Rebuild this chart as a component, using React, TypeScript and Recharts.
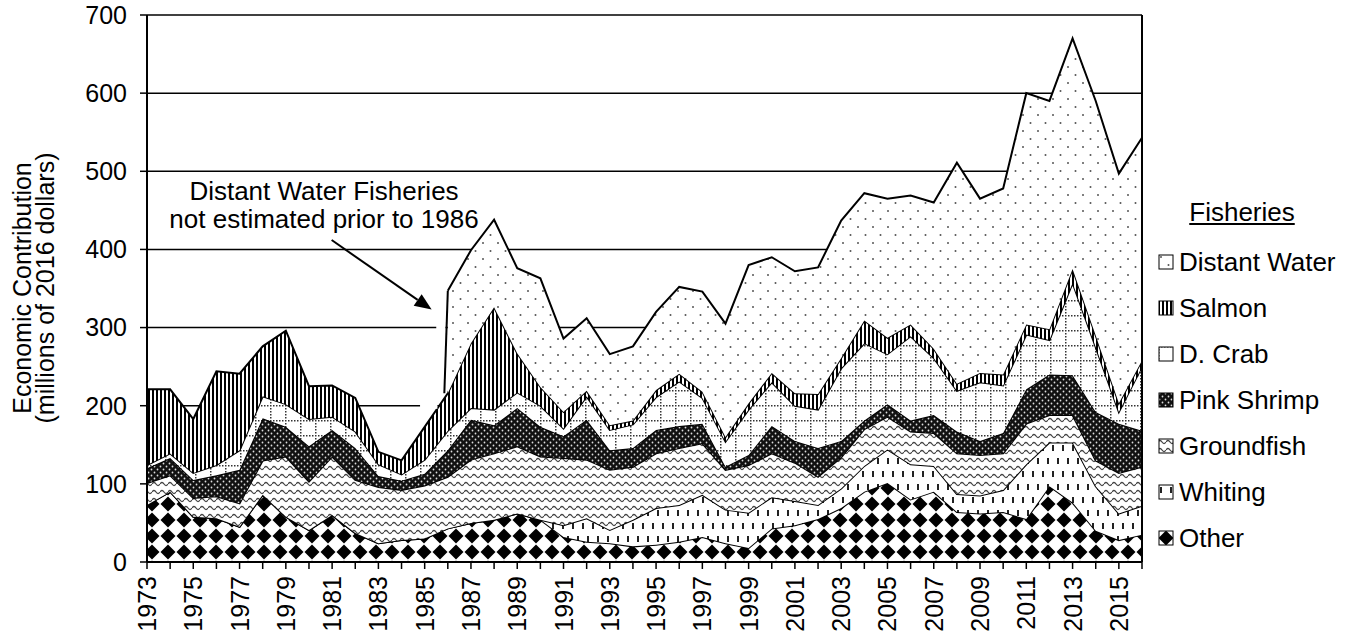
import React from "react";
import {
  AreaChart,
  Area,
  XAxis,
  YAxis,
  CartesianGrid,
  ReferenceLine,
  ReferenceArea,
} from "recharts";

const FONT = "'Liberation Sans', Arial, sans-serif";

const years = [
  1973, 1974, 1975, 1976, 1977, 1978, 1979, 1980, 1981, 1982, 1983, 1984, 1985,
  1986, 1987, 1988, 1989, 1990, 1991, 1992, 1993, 1994, 1995, 1996, 1997, 1998,
  1999, 2000, 2001, 2002, 2003, 2004, 2005, 2006, 2007, 2008, 2009, 2010, 2011,
  2012, 2013, 2014, 2015, 2016,
];

// millions of 2016 dollars, stacked bottom to top
const other = [
  73, 90, 58, 56, 45, 86, 58, 41, 60, 37, 24, 28, 30,
  43, 50, 54, 62, 54, 32, 26, 24, 20, 22, 26, 32, 24, 18,
  43, 47, 55, 69, 90, 101, 80, 90, 64, 62, 64, 55, 97, 76, 40, 28, 35,
];
const whiting = [
  0, 0, 0, 0, 0, 0, 0, 0, 0, 0, 0, 0, 0,
  0, 0, 0, 0, 0, 15, 30, 17, 34, 47, 47, 54, 43, 45,
  40, 31, 18, 25, 33, 43, 45, 33, 23, 23, 28, 70, 56, 77, 57, 34, 37,
];
const groundfish = [
  28, 21, 24, 28, 30, 44, 77, 62, 75, 68, 72, 64, 68,
  66, 81, 85, 86, 81, 86, 75, 77, 68, 70, 73, 66, 51, 61,
  56, 49, 36, 40, 47, 42, 42, 42, 52, 52, 47, 52, 35, 35, 33, 52, 50,
];
const pinkShrimp = [
  19, 22, 23, 27, 43, 54, 38, 45, 34, 41, 14, 12, 15,
  34, 51, 36, 49, 38, 28, 51, 25, 24, 30, 28, 25, 4, 13,
  35, 28, 37, 21, 11, 16, 14, 23, 28, 18, 26, 44, 52, 51, 62, 63, 46,
];
const dCrab = [
  4, 6, 9, 13, 25, 28, 29, 35, 17, 21, 15, 8, 18,
  25, 15, 20, 20, 27, 10, 30, 26, 30, 42, 57, 33, 32, 58,
  56, 45, 49, 93, 99, 64, 108, 73, 52, 75, 61, 70, 44, 118, 83, 15, 82,
];
const salmon = [
  97, 82, 69, 120, 98, 64, 94, 42, 40, 43, 16, 18, 42,
  48, 83, 131, 50, 24, 21, 7, 6, 5, 9, 10, 8, 6, 8,
  12, 16, 20, 13, 29, 21, 15, 12, 9, 12, 14, 13, 14, 18, 15, 11, 8,
];
const distantWater = [
  null, null, null, null, null, null, null, null, null, null, null, null, null,
  131, 119, 112, 109, 139, 94, 93, 91, 95, 100, 111, 128, 145, 177,
  148, 156, 162, 176, 163, 178, 165, 187, 283, 223, 238, 296, 292, 295, 300, 294, 285,
];

const yTicks = [0, 100, 200, 300, 400, 500, 600, 700];

const data = years.map((year, i) => ({
  year,
  other: other[i],
  whiting: whiting[i],
  groundfish: groundfish[i],
  pinkShrimp: pinkShrimp[i],
  dCrab: dCrab[i],
  salmon: salmon[i],
  distantWater: distantWater[i],
}));

const series = [
  { key: "other", name: "Other", fill: "pOther" },
  { key: "whiting", name: "Whiting", fill: "pWhiting" },
  { key: "groundfish", name: "Groundfish", fill: "pGround" },
  { key: "pinkShrimp", name: "Pink Shrimp", fill: "pShrimp" },
  { key: "dCrab", name: "D. Crab", fill: "pCrab" },
  { key: "salmon", name: "Salmon", fill: "pSalmon" },
  { key: "distantWater", name: "Distant Water", fill: "pDW" },
];

const Patterns = () => (
  <defs>
    <pattern id="pOther" width="16" height="16" patternUnits="userSpaceOnUse">
      <rect width="16" height="16" fill="#fff" />
      <polygon points="8,0.5 15.5,8 8,15.5 0.5,8" fill="#000" />
    </pattern>
    <pattern id="pWhiting" width="10" height="26" patternUnits="userSpaceOnUse">
      <rect width="10" height="26" fill="#fff" />
      <rect x="2" y="3" width="2" height="6" fill="#222" />
      <rect x="7" y="16" width="2" height="6" fill="#222" />
    </pattern>
    <pattern id="pGround" width="8" height="8" patternUnits="userSpaceOnUse">
      <rect width="8" height="8" fill="#fff" />
      <path d="M0 4 Q 2 1 4 4 T 8 4" fill="none" stroke="#444" strokeWidth="1.3" />
    </pattern>
    <pattern id="pShrimp" width="6" height="6" patternUnits="userSpaceOnUse">
      <rect width="6" height="6" fill="#111" />
      <circle cx="1.5" cy="1.5" r="0.9" fill="#ddd" />
      <circle cx="4.5" cy="4.5" r="0.9" fill="#ddd" />
    </pattern>
    <pattern id="pCrab" width="15" height="15" patternUnits="userSpaceOnUse">
      <rect width="15" height="15" fill="#fff" />
      <rect x="0" y="0" width="1.5" height="1.5" fill="#333" />
      <rect x="3" y="0" width="1.5" height="1.5" fill="#333" />
      <rect x="6" y="0" width="1.5" height="1.5" fill="#333" />
      <rect x="9" y="0" width="1.5" height="1.5" fill="#333" />
      <rect x="12" y="0" width="1.5" height="1.5" fill="#333" />
      <rect x="0" y="3" width="1.5" height="1.5" fill="#333" />
      <rect x="0" y="6" width="1.5" height="1.5" fill="#333" />
      <rect x="0" y="9" width="1.5" height="1.5" fill="#333" />
      <rect x="0" y="12" width="1.5" height="1.5" fill="#333" />
    </pattern>
    <pattern id="pSalmon" width="4" height="4" patternUnits="userSpaceOnUse">
      <rect width="4" height="4" fill="#fff" />
      <rect x="0" width="2" height="4" fill="#000" />
    </pattern>
    <pattern id="pDW" width="15" height="16" patternUnits="userSpaceOnUse">
      <rect width="15" height="16" fill="#fff" />
      <circle cx="3" cy="3" r="1" fill="#555" />
      <circle cx="10.5" cy="11" r="1" fill="#555" />
    </pattern>
  </defs>
);

const YearTick = (props: any) => {
  const { x, y, payload } = props;
  if (payload.value % 2 === 0) return null;
  return (
    <text
      x={x}
      y={y}
      transform={`rotate(-90 ${x} ${y})`}
      textAnchor="end"
      dominantBaseline="central"
      fontSize={25}
      fontFamily={FONT}
      fill="#000"
    >
      {payload.value}
    </text>
  );
};

const Arrow = (props: any) => {
  const { x1, y1, x2, y2 } = props;
  const a = Math.atan2(y2 - y1, x2 - x1);
  const len = 17;
  const hw = 7;
  const bx = x2 - len * Math.cos(a);
  const by = y2 - len * Math.sin(a);
  const px = -Math.sin(a) * hw;
  const py = Math.cos(a) * hw;
  return (
    <g>
      <line x1={x1} y1={y1} x2={bx} y2={by} stroke="#000" strokeWidth={2} />
      <polygon
        points={`${x2},${y2} ${bx + px},${by + py} ${bx - px},${by - py}`}
        fill="#000"
      />
    </g>
  );
};

const legendItems = [...series].reverse();

export default function App() {
  return (
    <div
      style={{
        position: "absolute",
        left: 0,
        top: 0,
        width: 1356,
        height: 639,
        background: "#fff",
        fontFamily: FONT,
        color: "#000",
      }}
    >
      <AreaChart
        width={1356}
        height={639}
        data={data}
        margin={{ top: 15, right: 214, bottom: 17, left: 17 }}
      >
        <Patterns />
        <CartesianGrid vertical={false} stroke="#000" strokeWidth={1.5} />
        <XAxis
          type="number"
          dataKey="year"
          domain={[1973, 2016]}
          ticks={years}
          interval={0}
          height={60}
          tick={<YearTick />}
          tickSize={7}
          tickMargin={7}
          tickLine={{ stroke: "#000", strokeWidth: 1.5 }}
          axisLine={{ stroke: "#000", strokeWidth: 2 }}
        />
        <YAxis
          type="number"
          domain={[0, 700]}
          ticks={yTicks}
          interval={0}
          width={130}
          tickSize={7}
          tickMargin={13}
          tick={{ fill: "#000", fontSize: 25, fontFamily: FONT }}
          tickLine={{ stroke: "#000", strokeWidth: 1.5 }}
          axisLine={{ stroke: "#000", strokeWidth: 2 }}
        />
        {series.map((s) => (
          <Area
            key={s.key}
            type="linear"
            dataKey={s.key}
            name={s.name}
            stackId="1"
            stroke="#000"
            strokeWidth={2}
            fill={`url(#${s.fill})`}
            fillOpacity={1}
            dot={false}
            activeDot={false}
            isAnimationActive={false}
          />
        ))}
        <ReferenceArea x1={1984.8} x2={1985.55} y1={196} y2={204} fill="#fff" fillOpacity={1} stroke="none" />
        <ReferenceArea x1={1985.5} x2={1985.9} y1={296} y2={304} fill="#fff" fillOpacity={1} stroke="none" />
        <ReferenceLine
          segment={[
            { x: 1985.85, y: 216 },
            { x: 1986, y: 347 },
          ]}
          stroke="#000"
          strokeWidth={2}
        />
        <ReferenceLine
          segment={[
            { x: 1980.98, y: 412 },
            { x: 1985.3, y: 323 },
          ]}
          shape={<Arrow />}
        />
        <ReferenceLine x={2016} stroke="#000" strokeWidth={2} />
      </AreaChart>

      <div
        style={{
          position: "absolute",
          left: 34,
          top: 288,
          width: 420,
          transform: "translate(-50%, -50%) rotate(-90deg)",
          textAlign: "center",
          fontSize: 25,
          lineHeight: "23px",
          whiteSpace: "nowrap",
        }}
      >
        <div>Economic Contribution</div>
        <div>(millions of 2016 dollars)</div>
      </div>

      <div
        style={{
          position: "absolute",
          left: 324,
          top: 177,
          transform: "translateX(-50%)",
          textAlign: "center",
          fontSize: 26,
          lineHeight: "28px",
          whiteSpace: "nowrap",
        }}
      >
        <div>Distant Water Fisheries</div>
        <div>not estimated prior to 1986</div>
      </div>

      <div
        style={{
          position: "absolute",
          left: 1242,
          top: 197,
          transform: "translateX(-50%)",
          fontSize: 26,
          lineHeight: "30px",
          textDecoration: "underline",
        }}
      >
        Fisheries
      </div>
      <div style={{ position: "absolute", left: 1158, top: 239 }}>
        {legendItems.map((s) => (
          <div
            key={s.key}
            style={{ display: "flex", alignItems: "center", height: 46, fontSize: 26 }}
          >
            <svg width={16} height={16} style={{ marginRight: 5 }}>
              <rect x={1} y={1} width={14} height={14} fill={`url(#${s.fill})`} stroke="#000" strokeWidth={1} />
            </svg>
            <span>{s.name}</span>
          </div>
        ))}
      </div>
    </div>
  );
}
